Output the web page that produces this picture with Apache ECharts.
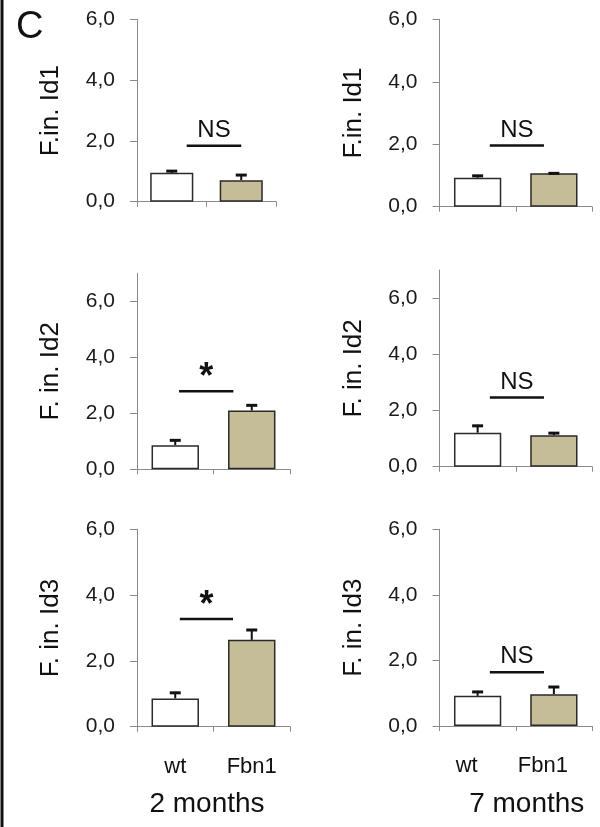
<!DOCTYPE html>
<html>
<head>
<meta charset="utf-8">
<script src="https://cdn.jsdelivr.net/npm/echarts@6/dist/echarts.min.js"></script>
<style>
html,body{margin:0;padding:0;background:#fff;}
#chart{width:600px;height:827px;}
</style>
</head>
<body>
<div id="chart"></div>
<script>
// ---- data ----
const categories = ['wt', 'Fbn1'];
const yLabels = ['F.in. Id1', 'F.in. Id1', 'F. in. Id2', 'F. in. Id2', 'F. in. Id3', 'F. in. Id3'];
const groupNames = ['2 months', '7 months'];
const tickValues = [0, 2, 4, 6];
const axisMax = [6, 6, 7, 7, 6, 6];

const id1_2m = [0.95, 0.71];
const id1_2m_err = [0.09, 0.20];
const id1_7m = [0.93, 1.07];
const id1_7m_err = [0.09, 0.03];
const id2_2m = [0.86, 2.10];
const id2_2m_err = [0.21, 0.22];
const id2_7m = [1.21, 1.12];
const id2_7m_err = [0.28, 0.11];
const id3_2m = [0.86, 2.64];
const id3_2m_err = [0.20, 0.33];
const id3_7m = [0.92, 0.97];
const id3_7m_err = [0.15, 0.25];

const sigLabels = ['NS', 'NS', '*', 'NS', '*', 'NS'];
const sigLevels = [1.84, 1.96, 2.79, 2.46, 3.27, 1.64];

// ---- layout / style ----
const values = [id1_2m, id1_7m, id2_2m, id2_7m, id3_2m, id3_7m];
const errors = [id1_2m_err, id1_7m_err, id2_2m_err, id2_7m_err, id3_2m_err, id3_7m_err];
const grids = [
  {left: 137, top: 19.5, width: 139, height: 182.2},
  {left: 439.5, top: 19.3, width: 152.5, height: 187.4},
  {left: 137, top: 273.3, width: 153, height: 196},
  {left: 439.5, top: 270, width: 152.5, height: 196.7},
  {left: 137, top: 529.3, width: 153, height: 197.4},
  {left: 439.5, top: 529.3, width: 152.5, height: 196.7}
];
const sigSpan = [[0.215, 1.0], [0.16, 0.87], [0.05, 0.76], [0.16, 0.87], [0.06, 0.755], [0.16, 0.87]];
const barColors = ['#ffffff', '#c5bd98'];
const axisGray = '#8a8a8a';
const FONT = '"Liberation Sans", Arial, sans-serif';

const chart = echarts.init(document.getElementById('chart'), null, {renderer: 'canvas'});

const option = {
  backgroundColor: '#ffffff',
  animation: false,
  grid: grids.map(g => Object.assign({containLabel: false}, g)),
  xAxis: [],
  yAxis: [],
  series: [],
  graphic: [
    {type: 'rect', shape: {x: 0.5, y: 0, width: 3, height: 827}, style: {fill: '#111'}},
    {type: 'text', left: 16, top: 9, style: {text: 'C', font: '38px ' + FONT, fill: '#111'}}
  ]
};

for (let i = 0; i < 6; i++) {
  const bottom = i >= 4;
  const right = i % 2 === 1;
  option.xAxis.push({
    type: 'category',
    gridIndex: i,
    data: categories,
    boundaryGap: true,
    axisLine: {show: true, lineStyle: {color: axisGray, width: 1}},
    axisTick: {show: true, length: 5, lineStyle: {color: axisGray}},
    axisLabel: {
      show: bottom,
      margin: 29,
      color: '#111',
      fontFamily: FONT,
      fontSize: 22,
      padding: right ? [0, 22, 0, 0] : 0
    },
    name: bottom ? groupNames[i % 2] : '',
    nameLocation: 'middle',
    nameGap: 64,
    nameTextStyle: {
      color: '#111', fontFamily: FONT, fontSize: 28,
      padding: right ? [0, 0, 0, 22] : [0, 13, 0, 0]
    },
    splitLine: {show: false}
  });
  option.yAxis.push({
    type: 'value',
    gridIndex: i,
    min: 0,
    max: axisMax[i],
    interval: 2,
    axisLine: {show: true, lineStyle: {color: axisGray, width: 1}},
    axisTick: {show: true, length: 7, lineStyle: {color: axisGray}, customValues: tickValues},
    axisLabel: {
      margin: 22,
      color: '#1a1a1a',
      fontFamily: FONT,
      fontSize: 21,
      customValues: tickValues,
      formatter: v => v.toFixed(1).replace('.', ',')
    },
    splitLine: {show: false},
    name: yLabels[i],
    nameLocation: 'middle',
    nameRotate: 90,
    nameGap: 73,
    nameTextStyle: {color: '#111', fontFamily: FONT, fontSize: 26}
  });
  option.series.push({
    type: 'bar',
    xAxisIndex: i,
    yAxisIndex: i,
    barWidth: '62%',
    data: values[i].map((v, k) => ({
      value: v,
      itemStyle: {color: barColors[k], borderColor: '#2a2a2a', borderWidth: 1.5}
    })),
    z: 2
  });
  option.series.push({
    type: 'custom',
    xAxisIndex: i,
    yAxisIndex: i,
    data: values[i].map((v, k) => [k, v, errors[i][k]]),
    encode: {x: 0, y: 1},
    z: 3,
    renderItem: function (params, api) {
      const x = api.value(0), v = api.value(1), e = api.value(2);
      const p0 = api.coord([x, v]);
      const p1 = api.coord([x, v + e]);
      return {
        type: 'group',
        children: [
          {type: 'line', shape: {x1: p0[0], y1: p0[1], x2: p1[0], y2: p1[1]}, style: {stroke: '#111', lineWidth: 2}},
          {type: 'line', shape: {x1: p1[0] - 5.5, y1: p1[1] + 1, x2: p1[0] + 5.5, y2: p1[1] + 1}, style: {stroke: '#111', lineWidth: 3}}
        ]
      };
    }
  });
  const span = sigSpan[i];
  const lab = sigLabels[i];
  option.series.push({
    type: 'custom',
    xAxisIndex: i,
    yAxisIndex: i,
    data: [[0, sigLevels[i]]],
    encode: {x: 0, y: 1},
    z: 4,
    renderItem: function (params, api) {
      const y = api.value(1);
      const a = api.coord([0, y]);
      const b = api.coord([1, y]);
      const x1 = a[0] + span[0] * (b[0] - a[0]);
      const x2 = a[0] + span[1] * (b[0] - a[0]);
      const star = lab === '*';
      return {
        type: 'group',
        children: [
          {type: 'line', shape: {x1: x1, y1: a[1], x2: x2, y2: a[1]}, style: {stroke: '#111', lineWidth: 2.5}},
          {type: 'text', x: (x1 + x2) / 2, y: a[1] - (star ? 13 : 15.5),
            style: {text: lab, font: (star ? 'bold 36px ' : '24px ') + FONT, fill: '#111', align: 'center', verticalAlign: 'middle'}}
        ]
      };
    }
  });
}

chart.setOption(option);
</script>
</body>
</html>
